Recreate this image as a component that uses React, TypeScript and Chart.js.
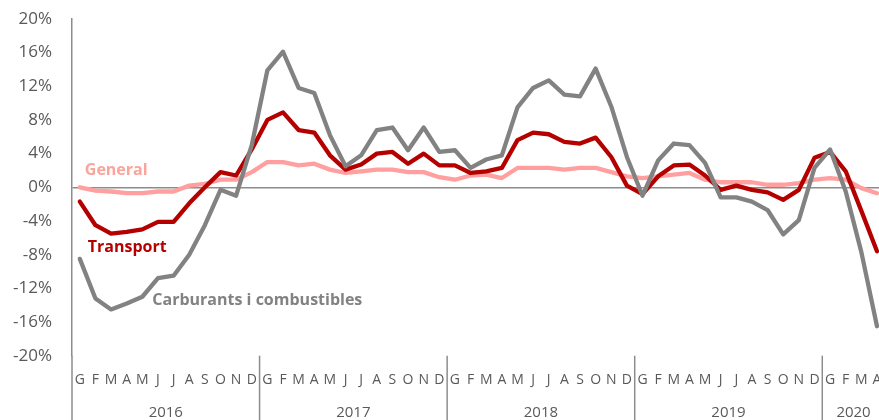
import React, { useEffect, useRef } from 'react';
import { Chart, registerables } from 'chart.js';

Chart.register(...registerables);

const MONTHS = ['G', 'F', 'M', 'A', 'M', 'J', 'J', 'A', 'S', 'O', 'N', 'D'];
const YEARS = ['2016', '2017', '2018', '2019', '2020'];
const MONTHS_PER_YEAR = [12, 12, 12, 12, 4];

const GENERAL = [
  0.0, -0.4, -0.5, -0.7, -0.7, -0.5, -0.5, 0.2, 0.4, 0.9, 0.9, 1.8,
  3.0, 3.0, 2.6, 2.8, 2.1, 1.7, 1.9, 2.1, 2.1, 1.8, 1.8, 1.2,
  0.9, 1.4, 1.5, 1.1, 2.3, 2.3, 2.3, 2.1, 2.3, 2.3, 1.8, 1.3,
  1.1, 1.3, 1.5, 1.7, 0.9, 0.6, 0.6, 0.6, 0.3, 0.3, 0.5, 0.9,
  1.1, 0.9, -0.1, -0.7,
];
const TRANSPORT = [
  -1.7, -4.5, -5.5, -5.3, -5.0, -4.1, -4.1, -1.9, 0.0, 1.8, 1.4, 4.5,
  8.0, 8.9, 6.8, 6.5, 3.8, 2.1, 2.7, 4.0, 4.2, 2.8, 4.0, 2.6,
  2.6, 1.7, 1.9, 2.3, 5.6, 6.5, 6.3, 5.4, 5.2, 5.9, 3.6, 0.2,
  -0.8, 1.3, 2.6, 2.7, 1.4, -0.3, 0.2, -0.3, -0.6, -1.5, -0.3, 3.5,
  4.2, 1.9, -2.8, -7.6,
];
const FUELS = [
  -8.5, -13.2, -14.5, -13.8, -13.0, -10.8, -10.5, -8.0, -4.5, -0.3, -1.0, 5.0,
  13.9, 16.1, 11.8, 11.2, 6.2, 2.5, 3.8, 6.8, 7.1, 4.4, 7.1, 4.2,
  4.4, 2.3, 3.3, 3.8, 9.5, 11.8, 12.7, 11.0, 10.8, 14.1, 9.6, 3.6,
  -1.0, 3.2, 5.2, 5.0, 2.9, -1.2, -1.2, -1.7, -2.7, -5.6, -3.9, 2.3,
  4.5, -0.5, -7.7, -16.5,
];
const Y_MIN = -20;
const Y_MAX = 20;
const Y_STEP = 4;

const LABEL_GENERAL = 'General';
const LABEL_TRANSPORT = 'Transport';
const LABEL_FUELS = 'Carburants i combustibles';

const C_GENERAL = '#ff9f9f';
const C_GENERAL_TEXT = '#fba49b';
const C_TRANSPORT = '#b50000';
const C_FUELS = '#828282';
const C_AXIS = '#8c8c8c';
const C_TEXT = '#595959';
const FONT = '"Open Sans", "DejaVu Sans", sans-serif';

const CATEGORIES: string[] = [];
YEARS.forEach((_, k) => {
  for (let m = 0; m < MONTHS_PER_YEAR[k]; m++) CATEGORIES.push(MONTHS[m]);
});

const groupPlugin = {
  id: 'yearGroups',
  afterDraw(chart: any) {
    const { ctx, chartArea } = chart;
    const x = chart.scales.x;
    const step = x.getPixelForValue(1) - x.getPixelForValue(0);
    let start = 0;
    ctx.save();
    ctx.strokeStyle = C_AXIS;
    ctx.lineWidth = 1.5;
    ctx.fillStyle = C_TEXT;
    ctx.font = `15px ${FONT}`;
    ctx.textAlign = 'center';
    ctx.textBaseline = 'middle';
    YEARS.forEach((yr, k) => {
      const n = MONTHS_PER_YEAR[k];
      const left = x.getPixelForValue(start) - step / 2;
      const right = x.getPixelForValue(start + n - 1) + step / 2;
      ctx.beginPath();
      ctx.moveTo(left, chartArea.bottom);
      ctx.lineTo(left, chart.height);
      ctx.stroke();
      ctx.fillText(yr, (left + right) / 2, chartArea.bottom + 57);
      start += n;
    });
    ctx.restore();
  },
};

const seriesLabelPlugin = {
  id: 'seriesLabels',
  afterDatasetsDraw(chart: any) {
    const { ctx } = chart;
    const x = chart.scales.x;
    const y = chart.scales.y;
    ctx.save();
    ctx.font = `bold 16px ${FONT}`;
    ctx.textAlign = 'left';
    ctx.textBaseline = 'middle';
    ctx.fillStyle = C_GENERAL_TEXT;
    ctx.fillText(LABEL_GENERAL, x.getPixelForValue(0) + 5, y.getPixelForValue(2.0));
    ctx.fillStyle = C_TRANSPORT;
    ctx.fillText(LABEL_TRANSPORT, x.getPixelForValue(0) + 8, y.getPixelForValue(-7.1));
    ctx.fillStyle = C_FUELS;
    ctx.fillText(LABEL_FUELS, x.getPixelForValue(4) + 10, y.getPixelForValue(-13.4));
    ctx.restore();
  },
};

export default function App() {
  const ref = useRef<HTMLCanvasElement>(null);
  useEffect(() => {
    if (!ref.current) return;
    const lineDs = (label: string, data: number[], color: string, order: number) => ({
      label,
      data,
      borderColor: color,
      backgroundColor: color,
      borderWidth: 4.3,
      pointRadius: 0,
      tension: 0,
      borderJoinStyle: 'round' as const,
      borderCapStyle: 'round' as const,
      order,
    });
    const chart = new Chart(ref.current, {
      type: 'line',
      data: {
        labels: CATEGORIES,
        datasets: [
          lineDs(LABEL_FUELS, FUELS, C_FUELS, 0),
          lineDs(LABEL_TRANSPORT, TRANSPORT, C_TRANSPORT, 1),
          lineDs(LABEL_GENERAL, GENERAL, C_GENERAL, 2),
        ],
      },
      options: {
        animation: false,
        responsive: false,
        devicePixelRatio: 1,
        layout: { padding: { left: 0, right: 15.2, top: 18.9, bottom: 0 } },
        plugins: { legend: { display: false }, tooltip: { enabled: false } },
        scales: {
          x: {
            type: 'category',
            offset: true,
            grid: { display: false, drawTicks: false },
            border: { display: false },
            ticks: {
              autoSkip: false,
              maxRotation: 0,
              minRotation: 0,
              padding: 16,
              color: C_TEXT,
              font: { family: FONT, size: 14 },
            },
            afterFit: (s: any) => {
              s.height = 440 - 355.7;
              s.paddingLeft = 0;
              s.paddingRight = 0;
            },
          },
          y: {
            min: Y_MIN,
            max: Y_MAX,
            ticks: {
              stepSize: Y_STEP,
              padding: 20,
              color: C_TEXT,
              font: { family: FONT, size: 17 },
              callback: (v: any) => `${v}%`,
            },
            grid: {
              drawTicks: false,
              lineWidth: 1.5,
              color: (c: any) => (c.tick && c.tick.value === 0 ? C_AXIS : 'rgba(0,0,0,0)'),
            },
            border: { display: true, color: C_AXIS, width: 1.5 },
            afterFit: (s: any) => {
              s.width = 72;
              s.paddingTop = 0;
              s.paddingBottom = 0;
            },
          },
        },
      },
      plugins: [groupPlugin, seriesLabelPlugin],
    });
    return () => chart.destroy();
  }, []);
  return (
    <div style={{ position: 'fixed', left: 0, top: 0, width: 879, height: 420, overflow: 'hidden', background: '#fff' }}>
      <canvas ref={ref} width={900} height={440} style={{ display: 'block' }} />
    </div>
  );
}
